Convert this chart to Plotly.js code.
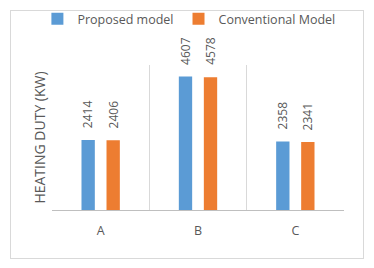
<!DOCTYPE html>
<html>
<head>
<meta charset="utf-8">
<script src="https://cdn.plot.ly/plotly-3.0.1.min.js"></script>
<style>
html,body{margin:0;padding:0;background:#fff;}
#wrap{position:relative;width:374px;height:268px;}
#chart{position:absolute;left:0;top:0;width:374px;height:268px;}
#frame{position:absolute;left:10px;top:10px;width:352px;height:247px;border:1px solid #d9d9d9;pointer-events:none;}
</style>
</head>
<body>
<div id="wrap"><div id="chart"></div><div id="frame"></div></div>
<script>
const categories = ["A", "B", "C"];
const proposedModel = [2414, 4607, 2358];
const conventionalModel = [2406, 4578, 2341];
const seriesNames = ["Proposed model", "Conventional Model"];
const yTitle = "HEATING DUTY (KW)";

const blue = "#5B9BD5", orange = "#ED7D31", txt = "#595959";
const FONT = "Open Sans, sans-serif";

const traces = [
  {type:"bar", name:seriesNames[0], x:categories, y:proposedModel, marker:{color:blue}, hoverinfo:"none"},
  {type:"bar", name:seriesNames[1], x:categories, y:conventionalModel, marker:{color:orange}, hoverinfo:"none"}
];

const bargap = 0.486, bargroupgap = 0.467;
const slot = (1 - bargap) / 2;
const annotations = [];
[proposedModel, conventionalModel].forEach((vals, s) => {
  vals.forEach((v, i) => {
    annotations.push({
      x: i + (s === 0 ? -slot/2 : slot/2), y: v, xref:"x", yref:"y",
      text: String(v), showarrow:false, textangle:-90,
      xanchor:"center", yanchor:"bottom", yshift:10,
      font:{family:FONT, size:12, color:txt}
    });
  });
});

const layout = {
  width:374, height:268,
  margin:{l:52, r:30, t:65, b:58, autoexpand:false},
  paper_bgcolor:"rgba(0,0,0,0)", plot_bgcolor:"rgba(0,0,0,0)",
  font:{family:FONT, color:txt},
  barmode:"group", bargap:bargap, bargroupgap:bargroupgap,
  showlegend:true,
  legend:{orientation:"h", x:-0.05, xanchor:"left", y:1.317, yanchor:"middle",
    font:{family:FONT, size:12.5, color:txt}, itemwidth:30, tracegroupgap:0, bgcolor:"rgba(0,0,0,0)"},
  xaxis:{type:"category", tickson:"boundaries", showgrid:true, gridcolor:"#d9d9d9", gridwidth:1,
    showline:true, linecolor:"#bfbfbf", linewidth:1, ticks:"", ticklen:0, ticklabelstandoff:9,
    tickfont:{family:FONT, size:12.5, color:txt}, fixedrange:true},
  yaxis:{range:[0,5000], showgrid:false, zeroline:false, showticklabels:false, ticks:"",
    title:{text:yTitle, font:{family:FONT, size:14, color:txt}, standoff:2}, fixedrange:true},
  annotations: annotations
};

Plotly.newPlot("chart", traces, layout, {displayModeBar:false, staticPlot:true});
</script>
</body>
</html>
